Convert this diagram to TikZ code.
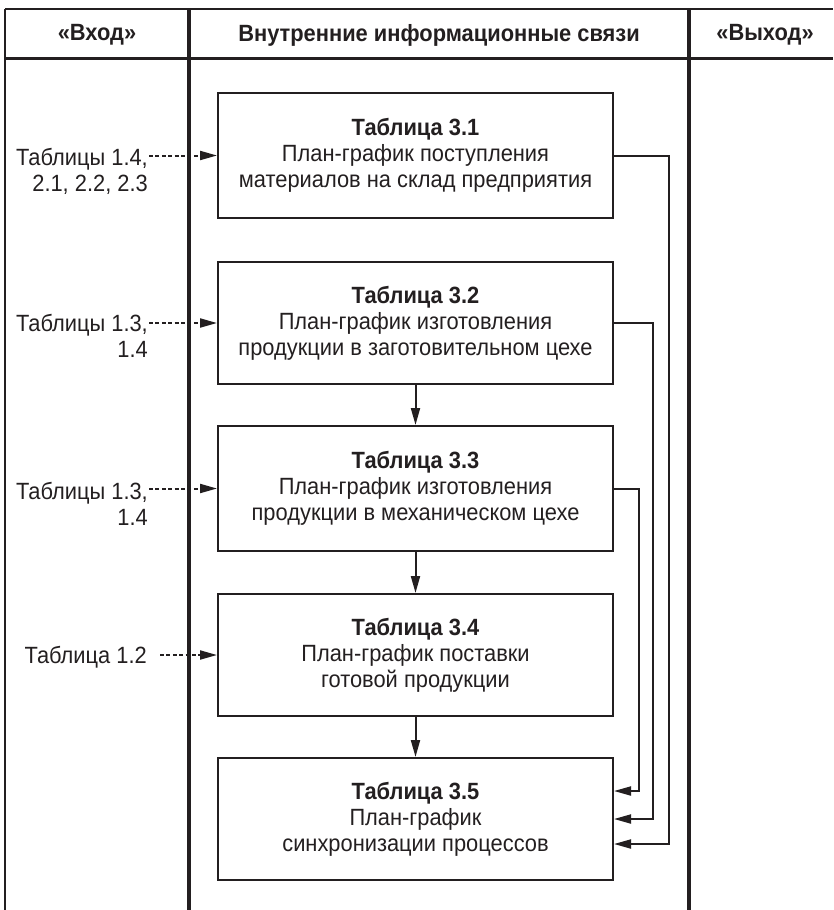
\documentclass[tikz,border=0pt]{standalone}
\usepackage{fontspec}
\setmainfont[FakeStretch=0.93]{Liberation Sans}
\usetikzlibrary{arrows.meta,calc}
\definecolor{ink}{HTML}{231F20}
\begin{document}
\begin{tikzpicture}[x=1pt,y=-1pt,
  every node/.style={text=ink, font=\fontsize{23.5}{26}\selectfont},
  tbox/.style={draw=ink, line width=2pt, minimum width=395pt, minimum height=#1, align=center, inner sep=0pt},
  lbl/.style={align=right, inner sep=0pt, anchor=north east},
  hdr/.style={font=\fontsize{23.5}{26}\selectfont\bfseries},
  thinline/.style={draw=ink, line width=2pt},
  sepline/.style={draw=ink, line width=3.5pt},
  tip/.style={-{Triangle[length=17pt,width=9pt]}},
  dasharr/.style={draw=ink, line width=2pt, dash pattern=on 4pt off 2.4pt, tip},
  solidarr/.style={draw=ink, line width=2pt, tip},
]
\useasboundingbox (0,0) rectangle (833,910);
% table frame
\draw[thinline] (5,9) -- (833,9);
\draw[sepline, line width=3pt] (5,58) -- (833,58);
\draw[thinline] (5,9) -- (5,910);
\draw[sepline] (189,9) -- (189,910);
\draw[sepline] (689,9) -- (689,910);
% headers
\node[hdr] (h1) at (97,35) {«Вход»};
\node[hdr] (h2) at (439,35) {Внутренние информационные связи};
\node[hdr] (h3) at (765,35) {«Выход»};
% boxes
\node[tbox=125pt] (b1) at (415.5,155.5) {\textbf{Таблица 3.1}\\План-график поступления\\материалов на склад предприятия};
\node[tbox=122pt] (b2) at (415.5,323) {\textbf{Таблица 3.2}\\План-график изготовления\\продукции в заготовительном цехе};
\node[tbox=125pt] (b3) at (415.5,488.5) {\textbf{Таблица 3.3}\\План-график изготовления\\продукции в механическом цехе};
\node[tbox=122pt] (b4) at (415.5,655) {\textbf{Таблица 3.4}\\План-график поставки\\готовой продукции};
\node[tbox=122pt] (b5) at (415.5,819) {\textbf{Таблица 3.5}\\План-график\\синхронизации процессов};
% input labels
\node[lbl] (l1) at (148,148) {Таблицы 1.4,\\2.1, 2.2, 2.3};
\node[lbl] (l2) at (148,314) {Таблицы 1.3,\\1.4};
\node[lbl] (l3) at (148,482) {Таблицы 1.3,\\1.4};
\node[lbl] (l4) at (147,646) {Таблица 1.2};
% dashed inputs
\draw[dasharr] ([xshift=1pt]l1.east |- b1.west) -- (b1.west);
\draw[dasharr] ([xshift=1pt]l2.east |- b2.west) -- (b2.west);
\draw[dasharr] ([xshift=1pt]l3.east |- b3.west) -- (b3.west);
\draw[dasharr] ([xshift=13pt]l4.east |- b4.west) -- (b4.west);
% sequence arrows
\draw[solidarr] (b2.south) -- (b3.north);
\draw[solidarr] (b3.south) -- (b4.north);
\draw[solidarr] (b4.south) -- (b5.north);
% feedback to 3.5
\draw[solidarr] (b1.east) -| ($(b5.east)+(55,25)$) -- ($(b5.east)+(0,25)$);
\draw[solidarr] (b2.east) -| ($(b5.east)+(39,0)$) -- (b5.east);
\draw[solidarr] (b3.east) -| ($(b5.east)+(25,-28)$) -- ($(b5.east)+(0,-28)$);
\end{tikzpicture}
\end{document}
